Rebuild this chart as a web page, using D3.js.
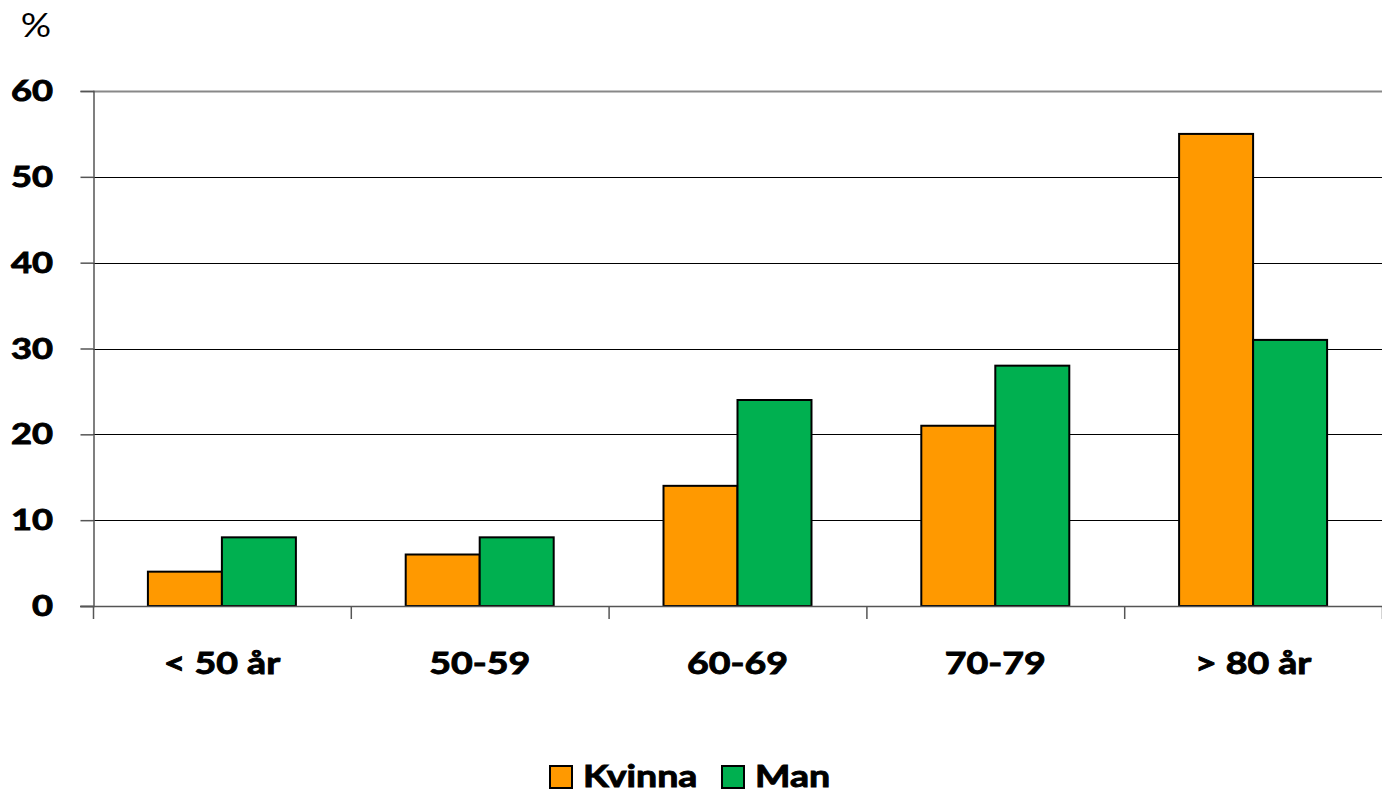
<!DOCTYPE html>
<html>
<head>
<meta charset="utf-8">
<script src="https://cdn.jsdelivr.net/npm/d3@7"></script>
<style>
  body { margin: 0; background: #fff; }
  svg text { font-family: Lato, "Open Sans", sans-serif; font-weight: bold; fill: #000; }
  svg text.heavy { stroke: #000; stroke-width: 0.9px; }
</style>
</head>
<body>
<div id="chart"></div>
<script>
// chart data
var categories = ["< 50 år", "50-59", "60-69", "70-79", "> 80 år"];
var seriesNames = ["Kvinna", "Man"];
var kvinna = [4, 6, 14, 21, 55];
var man = [8, 8, 24, 28, 31];
var yTicks = [0, 10, 20, 30, 40, 50, 60];
var colors = ["#FF9900", "#00B050"];

var W = 1382, H = 793;
var plotLeft = 93, plotRight = 1382, plotTop = 91, plotBottom = 606;
var stretch = 1.25; // text is wider than Lato, so stretch it

var svg = d3.select("#chart").append("svg")
  .attr("width", W)
  .attr("height", H);

var x = d3.scaleBand().domain(categories).range([plotLeft, plotRight]).paddingInner(0).paddingOuter(0);
var inner = d3.scaleBand().domain(seriesNames).range([0, x.bandwidth()]).paddingInner(0).paddingOuter(0.742);
var y = d3.scaleLinear().domain([0, 60]).range([plotBottom, plotTop]);

// gridlines
svg.append("g")
  .selectAll("line")
  .data(yTicks.filter(function(d) { return d > 0 && d < 60; }))
  .enter().append("line")
  .attr("x1", plotLeft).attr("x2", plotRight)
  .attr("y1", function(d) { return Math.round(y(d)) + 0.5; })
  .attr("y2", function(d) { return Math.round(y(d)) + 0.5; })
  .attr("stroke", "#000").attr("stroke-width", 1);

// top border line
svg.append("line")
  .attr("x1", plotLeft).attr("x2", plotRight)
  .attr("y1", y(60) + 0.5).attr("y2", y(60) + 0.5)
  .attr("stroke", "#888").attr("stroke-width", 2);

// y axis
var yAxis = svg.append("g")
  .attr("transform", "translate(" + (plotLeft + 0.5) + ",0)")
  .call(d3.axisLeft(y).tickValues(yTicks).tickSize(13).tickFormat(""));
yAxis.select(".domain").attr("stroke", "#555").attr("stroke-width", 1.5);
yAxis.selectAll(".tick line").attr("stroke", "#555").attr("stroke-width", 1.5);

svg.append("g")
  .selectAll("text")
  .data(yTicks)
  .enter().append("text")
  .attr("class", "heavy")
  .attr("transform", function(d) { return "translate(53," + (y(d) + 10) + ") scale(" + stretch + ",1)"; })
  .attr("text-anchor", "end")
  .attr("font-size", 29)
  .text(function(d) { return d; });

// bars
var groups = svg.append("g")
  .selectAll("g")
  .data(categories)
  .enter().append("g")
  .attr("transform", function(d) { return "translate(" + x(d) + ",0)"; });

groups.selectAll("rect")
  .data(function(d, i) {
    return [{ s: "Kvinna", v: kvinna[i], c: colors[0] }, { s: "Man", v: man[i], c: colors[1] }];
  })
  .enter().append("rect")
  .attr("x", function(d) { return inner(d.s); })
  .attr("width", inner.bandwidth())
  .attr("y", function(d) { return y(d.v); })
  .attr("height", function(d) { return y(0) - y(d.v); })
  .attr("fill", function(d) { return d.c; })
  .attr("stroke", "#000")
  .attr("stroke-width", 2);

// x axis
var xTickPos = d3.range(categories.length + 1).map(function(i) { return plotLeft + i * x.step(); });
svg.append("line")
  .attr("x1", plotLeft - 13).attr("x2", plotRight)
  .attr("y1", plotBottom + 0.5).attr("y2", plotBottom + 0.5)
  .attr("stroke", "#555").attr("stroke-width", 1.5);
svg.append("g")
  .selectAll("line")
  .data(xTickPos)
  .enter().append("line")
  .attr("x1", function(d) { return d + 0.5; })
  .attr("x2", function(d) { return d + 0.5; })
  .attr("y1", plotBottom).attr("y2", plotBottom + 13)
  .attr("stroke", "#555").attr("stroke-width", 1.5);

svg.append("g")
  .selectAll("text")
  .data(categories)
  .enter().append("text")
  .attr("class", "heavy")
  .attr("transform", function(d) { return "translate(" + (x(d) + x.bandwidth() / 2) + ",674) scale(" + stretch + ",1)"; })
  .attr("text-anchor", "middle")
  .attr("font-size", 30)
  .text(function(d) { return d; });

// unit label
svg.append("text")
  .attr("transform", "translate(36,37) scale(1.15,1)")
  .attr("text-anchor", "middle")
  .attr("font-size", 33)
  .style("font-weight", "normal")
  .text("%");

// legend
var legendItems = [
  { name: seriesNames[0], c: colors[0], bx: 550, tx: 583 },
  { name: seriesNames[1], c: colors[1], bx: 722, tx: 755 }
];
var legend = svg.append("g");
legend.selectAll("rect")
  .data(legendItems)
  .enter().append("rect")
  .attr("x", function(d) { return d.bx; })
  .attr("y", 766)
  .attr("width", 22).attr("height", 22)
  .attr("fill", function(d) { return d.c; })
  .attr("stroke", "#000").attr("stroke-width", 2);
legend.selectAll("text")
  .data(legendItems)
  .enter().append("text")
  .attr("class", "heavy")
  .attr("transform", function(d) { return "translate(" + d.tx + ",787) scale(" + stretch + ",1)"; })
  .attr("font-size", 30)
  .text(function(d) { return d.name; });
</script>
</body>
</html>
